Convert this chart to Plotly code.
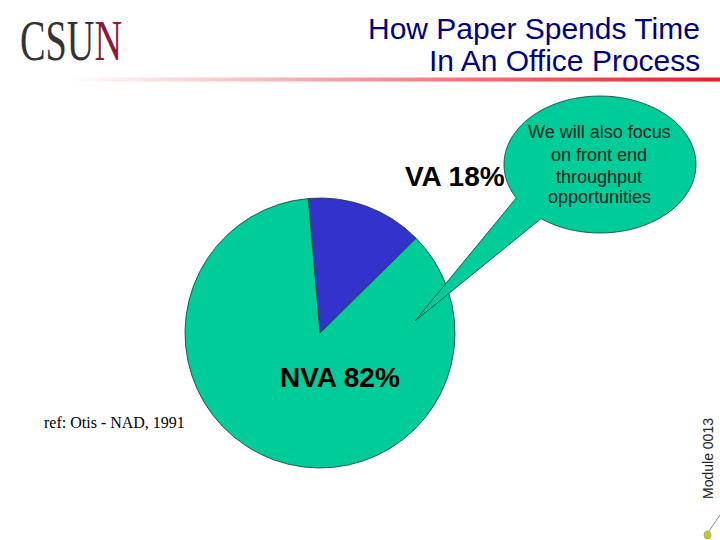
import math
import plotly.graph_objects as go

W, H = 720, 540

slice_labels = ["VA", "NVA"]
slice_values = [14, 86]
slice_colors = ["#3333CC", "#00CC99"]
title_lines = ["How Paper Spends Time", "In An Office Process"]
callout_lines = ["We will also focus", "on front end", "throughput", "opportunities"]


def px(x):
    return x / W


def py(y):
    return 1 - y / H


def label(text, x, y, size, color="#000000", family="Liberation Sans", anchor="center", **kw):
    fig.add_annotation(x=px(x), y=py(y), xref="paper", yref="paper", text=text, showarrow=False,
                       xanchor=anchor, yanchor="middle", borderpad=0,
                       font=dict(family=family, size=size, color=color), **kw)


fig = go.Figure()
fig.add_trace(go.Pie(labels=slice_labels, values=slice_values, sort=False, direction="clockwise",
                     rotation=-5, textinfo="none", hoverinfo="label+percent", showlegend=False,
                     marker=dict(colors=slice_colors, line=dict(color="#123A30", width=0.8)),
                     domain=dict(x=[px(185), px(455)], y=[py(468), py(198)])))

# faded red rule under the title
steps = 66
for i in range(steps):
    t = i / (steps - 1)
    r = round(255 + (232 - 255) * t)
    g = round(255 + (30 - 255) * t)
    b = round(255 + (40 - 255) * t)
    fig.add_shape(type="rect", xref="paper", yref="paper", layer="below",
                  x0=px(60 + i * 10), x1=px(70 + i * 10), y0=py(81.5), y1=py(77.5),
                  fillcolor=f"rgb({r},{g},{b})", line_width=0)

# speech bubble, runs round the ellipse and out to the tail tip
cx, cy, rx, ry = 600, 164.5, 96, 68.5
start = math.atan2(207 - cy, 524 - cx)
end = math.atan2(225 - cy, 553 - cx)
sweep = 2 * math.pi - (start - end)
pts = []
for i in range(121):
    a = start + sweep * i / 120
    pts.append((cx + rx * math.cos(a), cy + ry * math.sin(a)))
pts.append((415, 321))
path = "M " + " L ".join(f"{px(x):.5f},{py(y):.5f}" for x, y in pts) + " Z"
fig.add_shape(type="path", xref="paper", yref="paper", path=path, fillcolor="#00CC99",
              line=dict(color="#123A30", width=0.8))

# broom in the corner
fig.add_shape(type="line", xref="paper", yref="paper", x0=px(720), y0=py(515), x1=px(709), y1=py(531),
              line=dict(color="#8A8A70", width=1))
fig.add_shape(type="circle", xref="paper", yref="paper", x0=px(704), x1=px(711), y0=py(539), y1=py(531),
              fillcolor="#C8C040", line=dict(color="#909030", width=0.5))

label("C<span>S</span>U<span style='color:#8B1A3A'>N</span>", 19, 40, 58, color="#333333",
      family="Liberation Serif", anchor="left")
label(title_lines[0], 701, 29, 30, color="#000080", anchor="right")
label(title_lines[1], 701, 61, 30, color="#000080", anchor="right")
label("<b>VA 18%</b>", 455, 177, 28)
label("<b>NVA 82%</b>", 340, 377, 28)
label("ref: Otis - NAD, 1991", 114, 422, 16, family="Liberation Serif")
for text, y in zip(callout_lines, [132, 155, 177, 197]):
    label(text, 599, y, 18, color="#06281F")
label("Module 0013", 708, 459, 14, color="#222222", textangle=-90)

fig.update_layout(width=W, height=H, margin=dict(l=0, r=0, t=0, b=0),
                  paper_bgcolor="#FFFFFF", plot_bgcolor="#FFFFFF")

# no page margin, and the logo letters are much narrower than any installed serif
after_plot = """
document.body.style.margin = '0';
document.querySelectorAll('.annotation-text').forEach(function (t) {
  if (t.textContent === 'CSUN') {
    var x0 = t.getBBox().x, s = 0.66;
    t.setAttribute('transform', 'matrix(' + s + ' 0 0 1 ' + x0 * (1 - s) + ' 0)');
  }
});
"""
fig.write_html("out.html", post_script=after_plot, config=dict(displayModeBar=False))
